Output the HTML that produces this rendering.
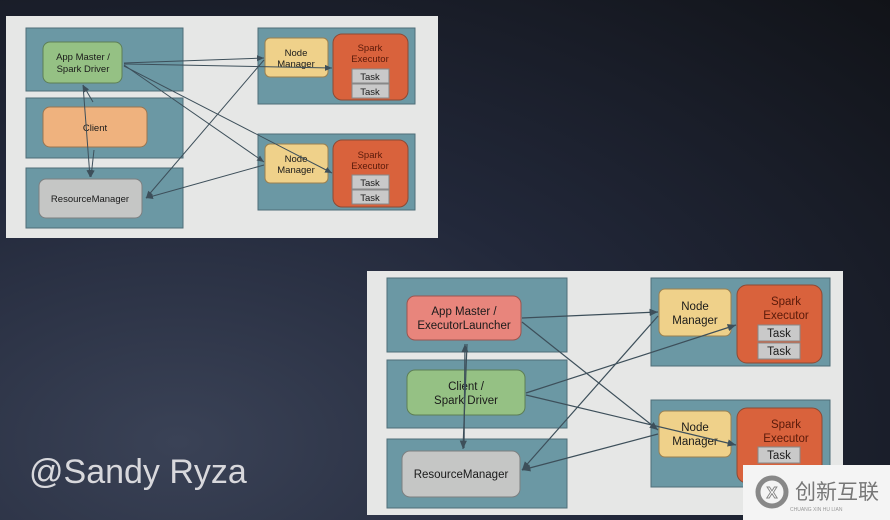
<!DOCTYPE html>
<html><head><style>
html,body{margin:0;padding:0;}
body{width:890px;height:520px;overflow:hidden;background:radial-gradient(ellipse at 20% 85%,#3a4256 0%,#22283a 45%,#111318 100%);font-family:"Liberation Sans",sans-serif;position:relative;}
svg{position:absolute;left:0;top:0;}
.t{font-family:"Liberation Sans",sans-serif;fill:#1a1a1a;text-anchor:middle;}
</style></head><body>
<svg width="890" height="520" viewBox="0 0 890 520">
<defs><marker id="a" markerWidth="8" markerHeight="8" refX="7" refY="4" orient="auto"><path d="M0,1 L7,4 L0,7z" fill="#3d4f5a"/></marker></defs>
<rect x="6" y="16" width="432" height="222" fill="#e6e7e6"/>
<g fill="#6b98a4" stroke="#4f6e78">
<rect x="26" y="28" width="157" height="63"/><rect x="26" y="98" width="157" height="60"/><rect x="26" y="168" width="157" height="60"/>
<rect x="258" y="28" width="157" height="76"/><rect x="258" y="134" width="157" height="76"/></g>
<rect x="43" y="42" width="79" height="41" rx="7" fill="#95c184" stroke="#5d7e55"/>
<rect x="43" y="107" width="104" height="40" rx="7" fill="#efb27e" stroke="#9a7550"/>
<rect x="39" y="179" width="103" height="39" rx="7" fill="#c5c6c5" stroke="#7c7f80"/>
<rect x="265" y="38" width="63" height="39" rx="5" fill="#efd18a" stroke="#9a8050"/>
<rect x="333" y="34" width="75" height="66" rx="9" fill="#d9623c" stroke="#8c4a35"/>
<rect x="352" y="69" width="37" height="14" fill="#c9c9c9" stroke="#888"/><rect x="352" y="84" width="37" height="14" fill="#c9c9c9" stroke="#888"/>
<rect x="265" y="144" width="63" height="39" rx="5" fill="#efd18a" stroke="#9a8050"/>
<rect x="333" y="140" width="75" height="67" rx="9" fill="#d9623c" stroke="#8c4a35"/>
<rect x="352" y="175" width="37" height="14" fill="#c9c9c9" stroke="#888"/><rect x="352" y="190" width="37" height="14" fill="#c9c9c9" stroke="#888"/>
<g font-size="9.5" class="t">
<text x="83" y="60">App Master /</text><text x="83" y="72">Spark Driver</text>
<text x="95" y="131">Client</text><text x="90" y="202">ResourceManager</text>
<text x="296" y="56">Node</text><text x="296" y="67">Manager</text>
<text x="370" y="51" fill="#5a1a0a">Spark</text><text x="370" y="62" fill="#5a1a0a">Executor</text>
<text x="370" y="80">Task</text><text x="370" y="95">Task</text>
<text x="296" y="162">Node</text><text x="296" y="173">Manager</text>
<text x="370" y="158" fill="#5a1a0a">Spark</text><text x="370" y="169" fill="#5a1a0a">Executor</text>
<text x="370" y="186">Task</text><text x="370" y="201">Task</text></g>
<g stroke="#3d4f5a" stroke-width="1" fill="none" marker-end="url(#a)">
<line x1="124" y1="63" x2="264" y2="58"/><line x1="124" y1="64" x2="332" y2="68"/>
<line x1="124" y1="65" x2="264" y2="162"/><line x1="124" y1="66" x2="332" y2="173"/>
<line x1="264" y1="60" x2="146" y2="198"/><line x1="264" y1="165" x2="146" y2="198"/>
<line x1="93" y1="102" x2="83" y2="85"/><line x1="83" y1="85" x2="90" y2="177"/><line x1="94" y1="150" x2="91" y2="177"/></g>
<rect x="367" y="271" width="476" height="244" fill="#e6e7e6"/>
<g fill="#6b98a4" stroke="#4f6e78">
<rect x="387" y="278" width="180" height="74"/><rect x="387" y="360" width="180" height="68"/><rect x="387" y="439" width="180" height="69"/>
<rect x="651" y="278" width="179" height="88"/><rect x="651" y="400" width="179" height="87"/></g>
<rect x="407" y="296" width="114" height="44" rx="8" fill="#e8857c" stroke="#9a5550"/>
<rect x="407" y="370" width="118" height="45" rx="8" fill="#95c184" stroke="#5d7e55"/>
<rect x="402" y="451" width="118" height="46" rx="8" fill="#c5c6c5" stroke="#7c7f80"/>
<rect x="659" y="289" width="72" height="47" rx="6" fill="#efd18a" stroke="#9a8050"/>
<rect x="737" y="285" width="85" height="78" rx="10" fill="#d9623c" stroke="#8c4a35"/>
<rect x="758" y="325" width="42" height="16" fill="#c9c9c9" stroke="#888"/><rect x="758" y="343" width="42" height="16" fill="#c9c9c9" stroke="#888"/>
<rect x="659" y="411" width="72" height="46" rx="6" fill="#efd18a" stroke="#9a8050"/>
<rect x="737" y="408" width="85" height="75" rx="10" fill="#d9623c" stroke="#8c4a35"/>
<rect x="758" y="447" width="42" height="16" fill="#c9c9c9" stroke="#888"/>
<g font-size="11.5" class="t">
<text x="464" y="315">App Master /</text><text x="464" y="329">ExecutorLauncher</text>
<text x="466" y="390">Client /</text><text x="466" y="404">Spark Driver</text>
<text x="461" y="478">ResourceManager</text>
<text x="695" y="310">Node</text><text x="695" y="324">Manager</text>
<text x="786" y="305" fill="#5a1a0a">Spark</text><text x="786" y="319" fill="#5a1a0a">Executor</text>
<text x="779" y="337">Task</text><text x="779" y="355">Task</text>
<text x="695" y="431">Node</text><text x="695" y="445">Manager</text>
<text x="786" y="428" fill="#5a1a0a">Spark</text><text x="786" y="442" fill="#5a1a0a">Executor</text>
<text x="779" y="459">Task</text></g>
<g stroke="#3d4f5a" stroke-width="1.2" fill="none" marker-end="url(#a)">
<line x1="522" y1="318" x2="658" y2="312"/><line x1="522" y1="322" x2="658" y2="430"/>
<line x1="526" y1="393" x2="736" y2="325"/><line x1="526" y1="395" x2="736" y2="445"/>
<line x1="658" y1="316" x2="522" y2="470"/><line x1="658" y1="434" x2="522" y2="470"/>
<line x1="464" y1="448" x2="465" y2="344"/><line x1="467" y1="344" x2="463" y2="449"/></g>
<text x="29" y="483" font-size="34" fill="#d8d8dc" font-family="Liberation Sans, sans-serif">@Sandy Ryza</text>
<rect x="743" y="465" width="147" height="55" fill="#f4f4f4"/>
<circle cx="772" cy="492" r="14" fill="none" stroke="#888" stroke-width="5"/>
<text x="772" y="498" font-size="16" fill="#fff" text-anchor="middle" font-weight="bold" stroke="#888" stroke-width="1">X</text>
<text x="795" y="499" font-size="21" fill="#777" font-family="Liberation Sans, Noto Sans CJK SC, sans-serif">创新互联</text>
<text x="790" y="511" font-size="5" fill="#999">CHUANG XIN HU LIAN</text>
</svg>
</body></html>
